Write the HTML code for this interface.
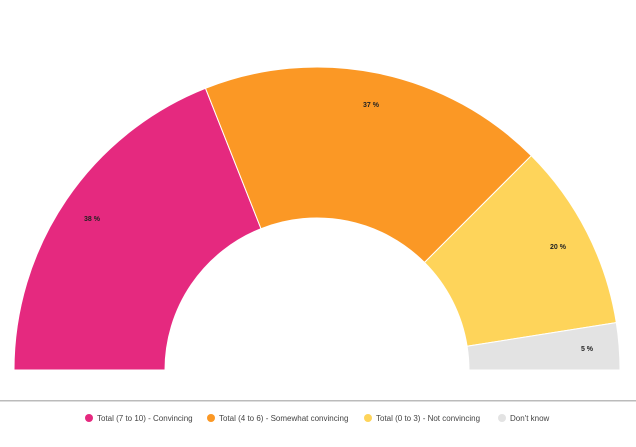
<!DOCTYPE html>
<html><head><style>
body{margin:0;width:636px;height:442px;background:#fff;overflow:hidden;font-family:"Liberation Sans",sans-serif}
</style></head><body>
<svg width="636" height="442" xmlns="http://www.w3.org/2000/svg">
<g stroke="#fff" stroke-width="1">
<path d="M14,370 A303,303 0 0 1 205.5,88.3 L261,228.7 A152,152 0 0 0 165,370 Z" fill="#e5297f"/>
<path d="M205.5,88.3 A303,303 0 0 1 531.3,155.7 L424.5,262.5 A152,152 0 0 0 261,228.7 Z" fill="#fb9825"/>
<path d="M531.3,155.7 A303,303 0 0 1 616.3,322.6 L467.1,346.2 A152,152 0 0 0 424.5,262.5 Z" fill="#fed45a"/>
<path d="M616.3,322.6 A303,303 0 0 1 620,370 L469,370 A152,152 0 0 0 467.1,346.2 Z" fill="#e3e3e3"/>
</g>
<g font-size="7" font-weight="bold" fill="#222" text-anchor="middle">
<text x="92" y="221">38 %</text>
<text x="371" y="107">37 %</text>
<text x="558" y="249">20 %</text>
<text x="587" y="351">5 %</text>
</g>
<rect x="0" y="400" width="636" height="1.5" fill="#bbb"/>
<g font-size="8" fill="#444">
<circle cx="89" cy="418" r="4" fill="#e5297f"/><text x="97" y="421">Total (7 to 10) - Convincing</text>
<circle cx="211" cy="418" r="4" fill="#fb9825"/><text x="219" y="421">Total (4 to 6) - Somewhat convincing</text>
<circle cx="368" cy="418" r="4" fill="#fed45a"/><text x="376" y="421">Total (0 to 3) - Not convincing</text>
<circle cx="502" cy="418" r="4" fill="#e3e3e3"/><text x="510" y="421">Don't know</text>
</g>
</svg>
</body></html>
